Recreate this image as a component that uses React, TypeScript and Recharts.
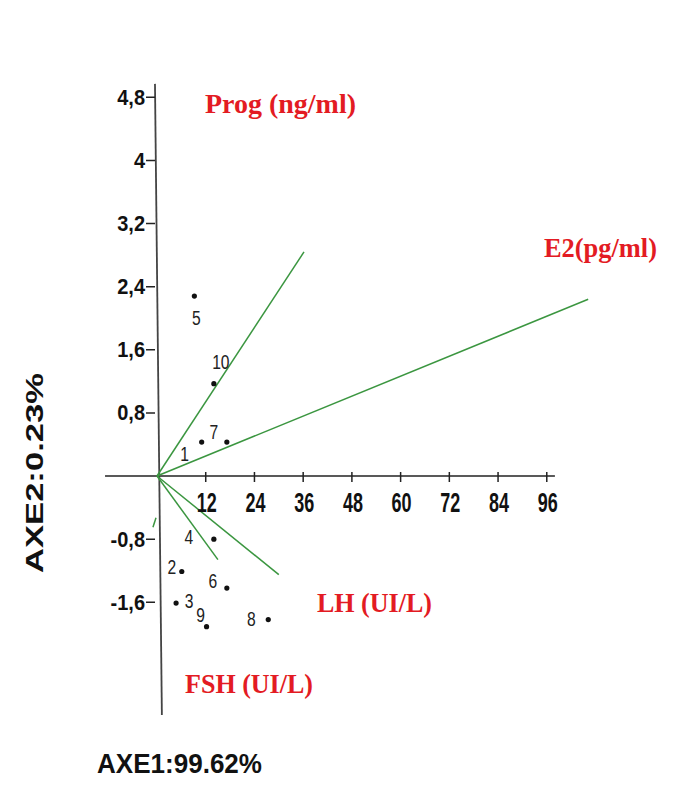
import React from 'react';
import { ScatterChart, Scatter, XAxis, YAxis, ReferenceLine } from 'recharts';

// Individuals (scores on AXE1 / AXE2)
const pointIds = ['1', '2', '3', '4', '5', '6', '7', '8', '9', '10'];
const axe1Scores = [11.0, 6.1, 4.7, 14.0, 9.2, 17.2, 17.2, 27.4, 12.2, 14.0];
const axe2Scores = [0.43, -1.21, -1.61, -0.8, 2.28, -1.42, 0.43, -1.82, -1.91, 1.17];

// Variables (loading vectors)
const variableNames = ['Prog (ng/ml)', 'E2(pg/ml)', 'LH (UI/L)', 'FSH (UI/L)', ''];
const variableAxe1 = [36.2, 106.2, 30.0, 15.0, -1.0];
const variableAxe2 = [2.84, 2.24, -1.25, -1.06, -0.65];

// Tick labels
const xTickValues = [12, 24, 36, 48, 60, 72, 84, 96];
const yTickValues = [4.8, 4, 3.2, 2.4, 1.6, 0.8, -0.8, -1.6];
const yTickLabels = ['4,8', '4', '3,2', '2,4', '1,6', '0,8', '-0,8', '-1,6'];

// Axis extents
const xAxisExtent = [-12.8, 98];
const yAxisExtent = [-3.03, 4.97];

const axisTitleX = 'AXE1:99.62%';
const axisTitleY = 'AXE2:0.23%';

// ---- styling / layout (not data) ----
const W = 659;
const H = 771;
const MARGIN = { top: 73.5, right: 71.5, bottom: 58.4, left: 94.2 };
const GREEN = '#3b9640';
const RED = '#e31b23';
const SANS = "'Liberation Sans', Arial, sans-serif";
const labelOffsets: Record<string, [number, number]> = {
  '1': [-17, 11],
  '2': [-10, -5],
  '3': [13, -3],
  '4': [-25, -3],
  '5': [2, 21],
  '6': [-14, -8],
  '7': [-13, -11],
  '8': [-17, -1],
  '9': [-6, -12],
  '10': [7, -22],
};
const varLabelLayout = [
  { cx: 272.5, by: 105, len: 151 },
  { cx: 592.5, by: 249, len: 113 },
  { cx: 366.5, by: 604, len: 115 },
  { cx: 241, by: 685, len: 128 },
];

const points = pointIds.map((id, i) => ({ id, x: axe1Scores[i], y: axe2Scores[i] }));
const xTicks = xTickValues.map((v) => ({ x: v, y: 0, label: String(v) }));
const yTicks = yTickValues.map((v, i) => ({ x: 0, y: v, label: yTickLabels[i] }));

const PointShape = (p: any) => {
  const off = labelOffsets[p.payload.id] || [0, 0];
  return (
    <g>
      <circle cx={p.cx} cy={p.cy} r={2.6} fill="#111" />
      <text
        transform={`translate(${p.cx + off[0]},${p.cy + off[1] + 7.5}) scale(0.92,1.22)`}
        x={0}
        y={0}
        textAnchor="middle"
        fontFamily={SANS}
        fontSize={17}
        fill="#222"
      >
        {p.payload.id}
      </text>
    </g>
  );
};

const XTickShape = (p: any) => (
  <g>
    <line x1={p.cx} y1={p.cy - 4} x2={p.cx} y2={p.cy + 6} stroke="#222" strokeWidth={1.5} />
    <text
      transform={`translate(${p.cx + 1},${p.cy + 36}) scale(0.9,1.4)`}
      x={0}
      y={0}
      textAnchor="middle"
      fontFamily={SANS}
      fontWeight="bold"
      fontSize={20}
      fill="#111"
    >
      {p.payload.label}
    </text>
  </g>
);

const YTickShape = (p: any) => (
  <g>
    <line x1={p.cx - 11} y1={p.cy} x2={p.cx - 2} y2={p.cy} stroke="#222" strokeWidth={1.5} />
    <text
      transform={`translate(${p.cx - 12},${p.cy + 7.5}) scale(1,1.1)`}
      x={0}
      y={0}
      textAnchor="end"
      fontFamily={SANS}
      fontWeight="bold"
      fontSize={20}
      fill="#111"
    >
      {p.payload.label}
    </text>
  </g>
);

export default function App() {
  return (
    <div style={{ position: 'relative', width: W, height: H, background: '#fff' }}>
      <ScatterChart width={W} height={H} margin={MARGIN}>
        <XAxis type="number" dataKey="x" domain={[-13.5, 108]} hide allowDataOverflow />
        <YAxis type="number" dataKey="y" domain={[-3.1, 5.0]} hide allowDataOverflow width={0} />
        <ReferenceLine
          segment={[
            { x: xAxisExtent[0], y: 0 },
            { x: xAxisExtent[1], y: 0 },
          ]}
          stroke="#222"
          strokeWidth={1.6}
          ifOverflow="visible"
        />
        <ReferenceLine
          segment={[
            { x: -0.5, y: yAxisExtent[1] },
            { x: 1.2, y: yAxisExtent[0] },
          ]}
          stroke="#444"
          strokeWidth={1.8}
          ifOverflow="visible"
        />
        {variableAxe1.map((vx, i) => (
          <ReferenceLine
            key={'v' + i}
            segment={
              i === 4
                ? [
                    { x: vx, y: variableAxe2[i] },
                    { x: -0.25, y: -0.53 },
                  ]
                : [
                    { x: 0, y: 0 },
                    { x: vx, y: variableAxe2[i] },
                  ]
            }
            stroke={GREEN}
            strokeWidth={1.5}
            ifOverflow="visible"
          />
        ))}
        <Scatter data={xTicks} shape={XTickShape} isAnimationActive={false} />
        <Scatter data={yTicks} shape={YTickShape} isAnimationActive={false} />
        <Scatter data={points} shape={PointShape} isAnimationActive={false} />
      </ScatterChart>
      <svg
        width={W}
        height={H}
        style={{ position: 'absolute', left: 0, top: 0, pointerEvents: 'none' }}
      >
        {varLabelLayout.map((l, i) => (
          <text
            key={i}
            x={l.cx}
            y={l.by}
            textAnchor="middle"
            textLength={l.len}
            lengthAdjust="spacingAndGlyphs"
            fontFamily="'Liberation Serif', 'Times New Roman', serif"
            fontWeight="bold"
            fontSize={28}
            fill={RED}
          >
            {variableNames[i]}
          </text>
        ))}
        <text
          x={171.5}
          y={765}
          textAnchor="middle"
          textLength={165}
          lengthAdjust="spacingAndGlyphs"
          fontFamily={SANS}
          fontWeight="bold"
          fontSize={27}
          fill="#111"
        >
          {axisTitleX}
        </text>
        <text
          transform="translate(35,465) rotate(-90)"
          x={0}
          y={0}
          textAnchor="middle"
          textLength={200}
          lengthAdjust="spacingAndGlyphs"
          fontFamily={SANS}
          fontWeight="bold"
          fontSize={23}
          fill="#111"
        >
          {axisTitleY}
        </text>
      </svg>
    </div>
  );
}
